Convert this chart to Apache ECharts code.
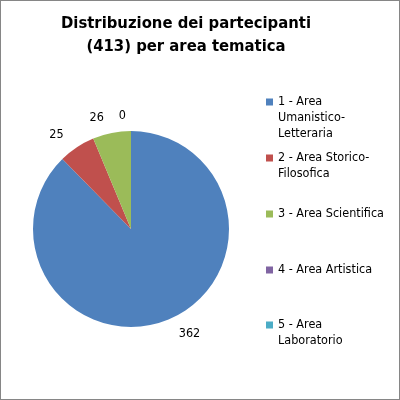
<!DOCTYPE html>
<html>
<head>
<meta charset="utf-8">
<script src="https://cdn.jsdelivr.net/npm/echarts@6/dist/echarts.min.js"></script>
<style>
  html, body { margin: 0; padding: 0; background: #fff; }
  #chart { width: 398px; height: 398px; border: 1px solid #868686; }
</style>
</head>
<body>
<div id="chart"></div>
<script>
// dati del grafico
var categories = ['1 - Area Umanistico-Letteraria', '2 - Area Storico-Filosofica',
  '3 - Area Scientifica', '4 - Area Artistica', '5 - Area Laboratorio'];
var legendLabels = ['1 - Area\nUmanistico-\nLetteraria', '2 - Area Storico-\nFilosofica',
  '3 - Area Scientifica', '4 - Area Artistica', '5 - Area\nLaboratorio'];
var values = [362, 25, 26, 0, 0];
var colors = ['#4F81BD', '#C0504D', '#9BBB59', '#8064A2', '#4BACC6'];
var titleText = 'Distribuzione dei partecipanti\n(413) per area tematica';

var font = '"DejaVu Sans Condensed", "DejaVu Sans", sans-serif';
var chart = echarts.init(document.getElementById('chart'));

// una legenda per voce: il quadratino sta accanto alla prima riga del testo
var lineH = 16;
var iconCenters = [101, 157, 213, 269, 324];
var legends = categories.map(function (name, i) {
  var lines = legendLabels[i].split('\n').length;
  var h = 7 + lineH * (lines - 1);
  return {
    left: 265,
    top: iconCenters[i] - 8,
    padding: 0,
    // quadrato in alto, punto invisibile in basso per allungare il box dell'icona
    icon: 'path://M0,0L7,0L7,7L0,7Z M0,' + h + 'L0.01,' + h,
    itemWidth: 7,
    itemHeight: h,
    selectedMode: false,
    data: [name],
    formatter: function () { return legendLabels[i]; },
    textStyle: {
      fontFamily: font,
      fontSize: 12.5,
      color: '#000',
      lineHeight: lineH
    }
  };
});

var option = {
  animation: false,
  color: colors,
  title: {
    text: titleText,
    left: 185,
    top: 11,
    padding: 0,
    textAlign: 'center',
    textStyle: {
      fontFamily: font,
      fontWeight: 'bold',
      fontSize: 16.5,
      lineHeight: 23,
      color: '#000'
    }
  },
  legend: legends,
  series: [{
    type: 'pie',
    center: [130, 228],
    radius: 98,
    startAngle: 90,
    clockwise: true,
    avoidLabelOverlap: false,
    emphasis: { disabled: true },
    label: {
      show: true,
      position: 'outside',
      formatter: '{c}',
      fontFamily: font,
      fontSize: 12.5,
      color: '#000'
    },
    labelLine: { show: false, length: 15, length2: 0 },
    data: categories.map(function (name, i) {
      return { name: name, value: values[i] };
    })
  }]
};
chart.setOption(option);
</script>
</body>
</html>
